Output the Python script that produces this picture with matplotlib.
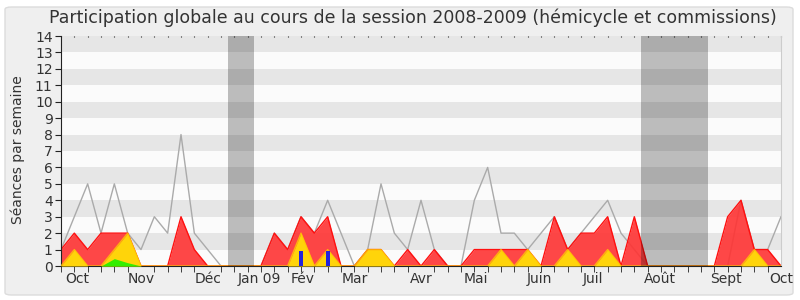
#Imports
import numpy as np
import matplotlib.pyplot as plt
from matplotlib.patches import FancyBboxPatch

#Data, one value per week (55 weeks, Oct 2008 -> Oct 2009)
weeks=np.arange(55)
total=[1,3,5,2,5,2,1,3,2,8,2,1,0,0,0,0,2,1,3,2,4,2,0,1,5,2,1,4,1,0,
       0,4,6,2,2,1,2,3,1,2,3,4,2,1,0,0,0,0,0,0,0,4,1,1,3]
red=[1,2,1,2,2,2,0,0,0,3,1,0,0,0,0,0,2,1,3,2,3,0,0,1,1,0,1,0,1,0,
     0,1,1,1,1,1,0,3,1,2,2,3,0,3,0,0,0,0,0,0,3,4,1,1,0]
yellow=[0,1,0,0,1,2,0,0,0,0,0,0,0,0,0,0,0,0,2,0,1,0,0,1,1,0,0,0,0,0,
        0,0,0,1,0,1,0,0,1,0,0,1,0,0,0,0,0,0,0,0,0,0,1,0,0]
green=[0,0,0,0,0.45,0.2]+[0]*49
blue_weeks=[18,20]
blue_values=[0.9,0.9]

#Holiday periods (start week, end week)
holidays=[(12.5,14.5),(43.5,48.5)]

#Month labels and where they sit on the week axis
month_labels=['Oct','Nov','Déc','Jan 09','Fév','Mar','Avr','Mai','Juin','Juil','Août','Sept','Oct']
month_pos=[1.2,6.0,11.0,14.85,18.15,22.05,27.0,31.1,35.9,39.9,44.9,49.9,54.0]

fig=plt.figure(figsize=(8,3),dpi=100)
fig.patch.set_facecolor('white')
#rounded grey frame behind everything
frame=FancyBboxPatch((5/800,5/300),788/800,288/300,boxstyle='round,pad=0,rounding_size=0.008',
                     transform=fig.transFigure,facecolor='#efefef',edgecolor='#dcdcdc',lw=1,zorder=-10)
fig.patches.append(frame)

ax=fig.add_axes([61/800,34/300,720/800,230/300])
ax.set_zorder(1)
ax.set_facecolor('#fbfbfb')

#Alternating horizontal bands
for k in range(1,14,2):
  ax.axhspan(k,k+1,color='#e6e6e6',lw=0,zorder=0)

#Total line
ax.plot(weeks,total,color='#aaaaaa',lw=1,zorder=1)

#Filled layers
ax.fill_between(weeks,red,color='#ff3333',alpha=0.9,lw=0,zorder=2)
ax.plot(weeks,red,color='#ff1010',lw=1,zorder=2)
ax.fill_between(weeks,yellow,color='#ffd40a',lw=0,zorder=3)
ax.plot(weeks,yellow,color='#ffcc00',lw=1,alpha=0.8,zorder=3)
ax.fill_between(weeks,green,color='#33ee00',lw=0,zorder=4)
ax.bar(blue_weeks,blue_values,width=0.3,color='#2222dd',zorder=5)

#Holidays overlay
for start,end in holidays:
  ax.axvspan(start,end,color='black',alpha=0.25,lw=0,zorder=6)

ax.set_xlim(0,54)
ax.set_ylim(0,14)
ax.set_yticks(range(15))
ax.set_xticks(month_pos)
ax.set_xticklabels(month_labels)
ax.set_xticks(weeks,minor=True)
ax.tick_params(axis='x',which='major',length=0,pad=4,labelsize=10,labelcolor='#333333')
ax.tick_params(axis='x',which='minor',length=4,color='#222222',direction='out')
ax.tick_params(axis='y',length=4,pad=2,labelsize=10,labelcolor='#333333',color='#222222')

ax.spines['top'].set_visible(False)
ax.spines['right'].set_color('#cccccc')
ax.spines['left'].set_color('#222222')
ax.spines['bottom'].set_color('#222222')

#little dots at the top edge, one per week
top=ax.secondary_xaxis('top')
top.set_xticks(weeks)
top.set_xticklabels([])
top.tick_params(length=1,width=0.8,direction='in',color='#222222')
top.spines['top'].set_visible(False)

fig.text(413/800,1-18/300,'Participation globale au cours de la session 2008-2009 (hémicycle et commissions)',
         ha='center',va='center',fontsize=12.5,color='#333333')
fig.text(18/800,0.5,'Séances par semaine',rotation=90,ha='center',va='center',fontsize=10,color='#333333')

plt.savefig('out.png',dpi=100,facecolor=fig.get_facecolor())
